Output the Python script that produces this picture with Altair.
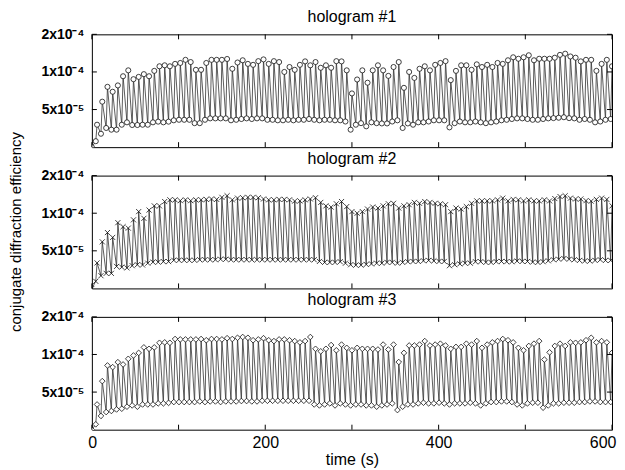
import altair as alt
import pandas as pd

# ---------------- data (efficiency values in units of 1e-5) ----------------
titles = ["hologram #1", "hologram #2", "hologram #3"]
y_title = ["conjugate diffraction efficiency"]
x_title = "time (s)"
unit = 1e-5
start_values = [2.5, 2.5, 2.5]          # reading at t = 0 s
period = 6                               # seconds per write/read cycle

high1 = [3.78, 5.78, 7.6, 6.94, 7.8, 9.24, 10.3, 8.75, 9.13, 9.6,
         9.24, 10.2, 11.1, 11.3, 11.1, 11.6, 11.8, 12.5, 12.0, 10.4,
         10.4, 11.8, 12.5, 12.5, 12.5, 12.7, 10.6, 11.9, 12.4, 11.6,
         11.4, 12.2, 12.6, 11.6, 12.2, 12.0, 10.0, 10.95, 10.4, 11.4,
         12.15, 11.3, 12.0, 10.8, 11.3, 10.8, 12.2, 12.15, 10.3, 6.73,
         8.7, 10.3, 8.2, 10.3, 11.3, 10.3, 9.3, 10.95, 12.0, 7.46,
         10.0, 8.96, 10.6, 11.1, 10.3, 11.4, 11.8, 12.2, 8.6, 10.2,
         11.3, 11.3, 10.4, 11.5, 10.95, 11.4, 10.95, 11.8, 11.6, 12.4,
         13.1, 12.75, 13.1, 13.6, 12.4, 12.75, 12.75, 12.75, 13.0, 13.7,
         14.0, 13.3, 13.0, 12.15, 12.5, 12.5, 10.2, 11.6, 12.5, 11.1]
low1 = [2.79, 3.2, 3.56, 3.45, 3.45, 3.78, 3.95, 3.76, 3.76, 3.78,
        3.78, 3.95, 4.0, 3.95, 4.0, 4.1, 4.14, 4.14, 4.14, 3.89,
        3.89, 4.14, 4.25, 4.25, 4.25, 4.25, 4.1, 4.14, 4.2, 4.25,
        4.2, 4.25, 4.25, 4.14, 4.14, 4.1, 4.1, 4.14, 4.1, 4.14,
        4.14, 4.2, 4.14, 4.1, 4.14, 4.14, 4.1, 4.1, 4.01, 3.45,
        3.78, 3.89, 3.67, 3.95, 3.89, 3.87, 3.87, 4.01, 4.1, 3.56,
        3.87, 3.78, 3.95, 3.95, 4.01, 4.1, 4.1, 4.1, 3.6, 3.89,
        4.01, 3.95, 3.95, 4.01, 3.95, 3.89, 3.95, 4.01, 4.1, 4.14,
        4.2, 4.25, 4.25, 4.2, 4.14, 4.14, 4.2, 4.25, 4.27, 4.3,
        4.34, 4.27, 4.25, 4.14, 4.2, 4.14, 3.95, 4.01, 4.14, 4.2]

high2 = [4.0, 5.9, 7.0, 6.4, 8.4, 7.8, 7.6, 8.85, 10.3, 9.1,
         10.6, 11.45, 11.45, 12.4, 12.8, 12.8, 12.6, 12.8, 12.6, 12.8,
         12.8, 12.9, 13.0, 12.9, 13.4, 13.8, 12.8, 13.2, 13.3, 13.4,
         13.4, 13.3, 13.0, 12.8, 12.8, 12.9, 12.9, 12.8, 12.5, 12.55,
         12.8, 13.0, 13.3, 12.2, 11.45, 11.2, 11.9, 12.4, 11.3, 10.3,
         10.0, 10.3, 10.8, 11.2, 11.0, 11.45, 11.9, 12.0, 11.0, 11.45,
         11.7, 12.2, 12.0, 12.4, 12.2, 12.0, 11.9, 11.7, 10.3, 11.0,
         10.8, 11.3, 12.0, 12.55, 12.55, 12.55, 12.55, 12.8, 13.2, 12.55,
         12.9, 12.8, 12.55, 12.8, 12.55, 12.55, 12.8, 12.55, 13.1, 13.6,
         13.8, 13.2, 13.0, 13.0, 12.6, 12.5, 12.9, 13.2, 12.9, 11.45]
low2 = [2.85, 3.16, 3.3, 3.3, 3.75, 3.7, 3.65, 3.8, 3.87, 3.85,
        3.98, 4.06, 4.06, 4.1, 4.1, 4.2, 4.2, 4.2, 4.2, 4.2,
        4.24, 4.24, 4.24, 4.24, 4.28, 4.28, 4.24, 4.24, 4.24, 4.24,
        4.24, 4.24, 4.24, 4.24, 4.24, 4.24, 4.24, 4.24, 4.24, 4.24,
        4.24, 4.24, 4.24, 4.11, 4.04, 4.04, 4.04, 4.09, 3.98, 3.87,
        3.84, 3.84, 3.89, 3.93, 3.98, 3.98, 4.04, 4.04, 3.98, 4.04,
        4.09, 4.11, 4.11, 4.16, 4.19, 4.15, 4.11, 4.11, 3.80, 3.87,
        3.93, 3.98, 3.98, 4.09, 4.09, 4.04, 4.04, 4.09, 4.11, 4.09,
        4.09, 4.14, 4.11, 4.11, 4.06, 4.04, 4.09, 4.16, 4.24, 4.28,
        4.34, 4.28, 4.24, 4.19, 4.14, 4.14, 4.19, 4.24, 4.19, 4.19]

high3 = [3.98, 6.12, 8.17, 7.92, 8.68, 8.32, 9.23, 9.82, 10.3, 11.4,
         11.1, 11.4, 12.4, 12.5, 12.4, 13.3, 13.2, 13.2, 13.2, 13.2,
         13.3, 13.0, 13.3, 13.3, 13.2, 13.5, 13.3, 13.6, 13.8, 13.6,
         13.0, 13.2, 13.5, 13.0, 12.8, 13.2, 13.2, 13.0, 12.8, 12.5,
         12.8, 13.8, 11.1, 10.6, 11.1, 11.9, 10.8, 12.0, 11.3, 10.8,
         11.3, 11.1, 11.1, 11.1, 10.96, 12.0, 10.96, 12.0, 8.7, 10.3,
         11.8, 11.8, 12.0, 12.8, 11.8, 12.0, 12.2, 11.8, 11.1, 11.5,
         11.5, 12.2, 12.0, 12.8, 11.3, 12.0, 12.5, 12.8, 13.3, 13.0,
         12.5, 11.3, 10.8, 11.7, 12.2, 12.8, 9.1, 10.4, 11.7, 12.2,
         11.7, 12.5, 12.4, 12.5, 13.0, 13.6, 12.5, 12.8, 12.5, 10.3]
low3 = [2.76, 3.22, 3.46, 3.53, 3.63, 3.68, 3.82, 3.91, 3.82, 3.98,
        3.98, 3.98, 4.06, 4.06, 4.1, 4.16, 4.16, 4.16, 4.16, 4.16,
        4.21, 4.16, 4.21, 4.21, 4.16, 4.21, 4.21, 4.21, 4.24, 4.24,
        4.21, 4.21, 4.26, 4.26, 4.26, 4.26, 4.26, 4.26, 4.26, 4.26,
        4.26, 4.26, 3.98, 3.91, 3.98, 4.06, 3.91, 4.06, 3.98, 3.91,
        3.98, 3.98, 3.91, 3.91, 3.82, 3.91, 3.98, 4.06, 3.59, 3.82,
        3.98, 3.98, 4.06, 4.11, 4.06, 4.06, 4.11, 4.06, 3.98, 4.06,
        4.06, 4.06, 4.11, 4.06, 3.91, 4.06, 4.16, 4.16, 4.21, 4.21,
        4.16, 3.98, 3.91, 4.06, 4.11, 4.11, 3.75, 3.91, 4.06, 4.06,
        4.11, 4.11, 4.11, 4.16, 4.16, 4.21, 4.21, 4.16, 4.16, 4.16]

x_tick_values = [0, 100, 200, 300, 400, 500, 600]
x_label_values = [0, 200, 400, 600]
y_tick_values = [5e-5, 1e-4, 2e-4]
y_tick_labels = ["5x10\u207b\u2075", "1x10\u207b\u2074", "2x10\u207b\u2074"]
y_domain = [2.5e-5, 2e-4]
x_domain = [0, 600]

# ---------------- styling ----------------
FONT = "Liberation Sans"
W = 521
H = 113
LINE_COLOR = "#333333"
CROSS = "M-1,-1L1,1M-1,1L1,-1"
markers = [
    dict(shape="circle", filled=False, fill="white", fillOpacity=1, size=26),
    dict(shape=CROSS, filled=False, size=26),
    dict(shape="diamond", filled=False, fill="white", fillOpacity=1, size=32),
]

label_expr = (f"datum.value > 1.5e-4 ? '{y_tick_labels[2]}' : "
              f"(datum.value > 7e-5 ? '{y_tick_labels[1]}' : '{y_tick_labels[0]}')")


def series(start, low, high):
    rows = [{"t": 0.0, "v": start * unit}]
    for k, (lo, hi) in enumerate(zip(low, high), start=1):
        rows.append({"t": period * k - 1.5, "v": lo * unit})
        rows.append({"t": period * k, "v": hi * unit})
    return pd.DataFrame(rows)


def panel(i, start, low, high, bottom, with_ytitle):
    df = series(start, low, high)
    if bottom:
        xaxis = alt.Axis(values=x_label_values, format="d", ticks=False, domain=False,
                         grid=False, labelPadding=5, labelFlush=True,
                         labelFlushOffset=4, title=x_title, titlePadding=1)
    else:
        xaxis = None
    x = alt.X("t:Q", scale=alt.Scale(domain=x_domain, nice=False, zero=False), axis=xaxis)
    y = alt.Y("v:Q", scale=alt.Scale(type="log", domain=y_domain, nice=False),
              axis=alt.Axis(values=y_tick_values, labelExpr=label_expr, ticks=False,
                            domain=False, grid=False, labelPadding=8,
                            labelFontWeight="bold", title=None))
    line = alt.Chart(df).mark_line(color=LINE_COLOR, strokeWidth=0.8, clip=True).encode(x=x, y=y)
    pts = alt.Chart(df).mark_point(color="#111111", strokeWidth=0.8, opacity=1,
                                   clip=True, **markers[i]).encode(x="t:Q", y="v:Q")
    xt = pd.DataFrame({"t": x_tick_values})
    yt = pd.DataFrame({"v": y_tick_values})
    tb = alt.Chart(xt).mark_rule(color="black").encode(
        x="t:Q", y=alt.value(H), y2=alt.value(H - 5))
    tt = alt.Chart(xt).mark_rule(color="black").encode(
        x="t:Q", y=alt.value(0), y2=alt.value(5))
    yl = alt.Chart(yt).mark_rule(color="black").encode(
        y="v:Q", x=alt.value(0), x2=alt.value(5))
    yr = alt.Chart(yt).mark_rule(color="black").encode(
        y="v:Q", x=alt.value(W - 5), x2=alt.value(W))
    ttl = alt.Chart(pd.DataFrame({"label": [titles[i]]})).mark_text(
        font=FONT, fontSize=16, color="black", align="center", baseline="alphabetic"
    ).encode(text="label:N", x=alt.value(W / 2), y=alt.value(-12))
    layers = [line, pts, tb, tt, yl, yr, ttl]
    if with_ytitle:
        yttl = alt.Chart(pd.DataFrame({"label": y_title})).mark_text(
            font=FONT, fontSize=15, color="black", align="center", baseline="middle",
            angle=270
        ).encode(text="label:N", x=alt.value(-76), y=alt.value(H / 2))
        layers.append(yttl)
    return alt.layer(*layers).properties(width=W, height=H)


p1 = panel(0, start_values[0], low1, high1, False, False)
p2 = panel(1, start_values[1], low2, high2, False, True)
p3 = panel(2, start_values[2], low3, high3, True, False)

chart = alt.vconcat(p1, p2, p3, spacing=28.5, bounds="flush").properties(
    padding={"left": 0, "top": 0, "right": 0, "bottom": 0}
).configure_view(stroke="black", strokeWidth=1).configure_axis(
    labelFont=FONT, titleFont=FONT, labelFontSize=14, titleFontSize=16,
    labelColor="black", titleColor="black", titleFontWeight="normal"
).configure_axisX(labelFontSize=16, titleFontSize=16)

chart.save("out.html", embed_options={"renderer": "svg", "actions": False})
